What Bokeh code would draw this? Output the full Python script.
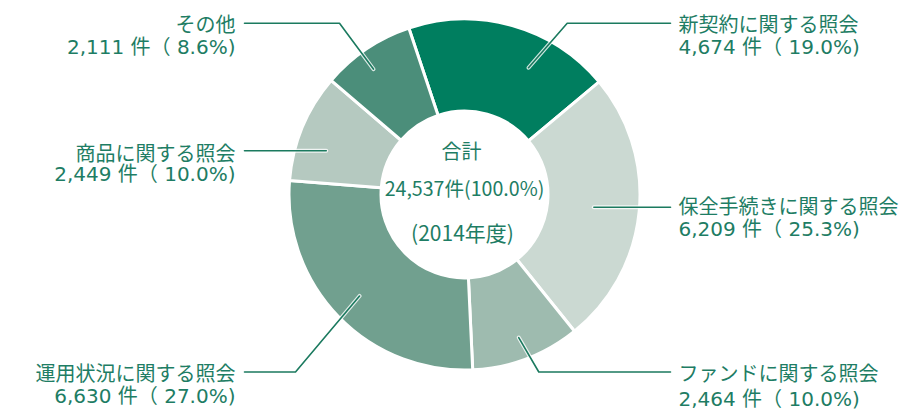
import math
from bokeh.plotting import figure
from bokeh.models import ColumnDataSource
from bokeh.core.properties import value
from bokeh.embed import file_html
from bokeh.resources import INLINE

# ---- data ----
categories = ["新契約に関する照会", "保全手続きに関する照会", "ファンドに関する照会",
              "運用状況に関する照会", "商品に関する照会", "その他"]
counts = [4674, 6209, 2464, 6630, 2449, 2111]
percents = [19.0, 25.3, 10.0, 27.0, 10.0, 8.6]
total_title = "合計"
total_label = "24,537件(100.0%)"
year_label = "(2014年度)"

# ---- style / layout ----
colors = ["#007E5F", "#CBD9D2", "#9EBBAF", "#71A08F", "#B5C9C0", "#4B8E7A"]
TEXT = "#1E7D64"
LINE = "#1B7A5F"
W, H = 905, 416


def X(x):
    return x


def Y(y):
    return H - y


CX, CY = X(464), Y(194)
R_OUT, R_IN = 175.5, 83.5
START = -18.5  # degrees clockwise from 12 o'clock

p = figure(width=W, height=H, x_range=(0, W), y_range=(0, H),
           output_backend="svg", toolbar_location=None, min_border=0,
           x_axis_type=None, y_axis_type=None)
p.grid.visible = False
p.outline_line_color = None
p.background_fill_color = "white"
p.border_fill_color = "white"

total = sum(counts)
a0s, a1s, mids = [], [], []
acc = START
for c in counts:
    a0 = acc
    a1 = acc + 360.0 * c / total
    a0s.append(a0)
    a1s.append(a1)
    mids.append((a0 + a1) / 2)
    acc = a1

src = ColumnDataSource(dict(
    start=[math.radians(90 - a) for a in a0s],
    end=[math.radians(90 - a) for a in a1s],
    color=colors,
))
p.annular_wedge(x=CX, y=CY, inner_radius=R_IN, outer_radius=R_OUT,
                start_angle="start", end_angle="end", direction="clock",
                fill_color="color", line_color="white", line_width=3, source=src)

# ---- leader lines ----
# per slice: angle tweak, anchor radius, label side x, elbow x, line y (screen px)
leader = [
    (11.0, 142, 670, 566.7, 22.7),
    (0.0, 130, 670, None, None),
    (0.0, 153, 670, 538.3, 371.5),
    (0.0, 146, 244, 295.0, 371.5),
    (-5.0, 145, 244, None, None),
    (-2.0, 155, 244, 339.0, 22.7),
]
for mid, (tw, r, sx, ex, ly) in zip(mids, leader):
    th = math.radians(mid + tw)
    ax = CX + r * math.sin(th)
    ay = CY + r * math.cos(th)
    if ex is None:
        xs = [X(sx), ax]
        ys = [ay, ay]
    else:
        xs = [X(sx), X(ex), ax]
        ys = [Y(ly), Y(ly), ay]
    p.line(xs, ys, line_color="white", line_width=4, line_alpha=0.8, line_cap="round", line_join="round")
    p.line(xs, ys, line_color=LINE, line_width=1.6, line_cap="round", line_join="round")

# ---- labels ----
label_pos = [  # (align, x, y1, y2) in screen px
    ("left", 678, 23.3, 46.7),
    ("left", 678, 205.0, 228.3),
    ("left", 678, 371.7, 398.3),
    ("right", 235, 371.7, 395.0),
    ("right", 235, 151.5, 173.5),
    ("right", 235, 23.0, 46.0),
]
jp_font = value("Noto Sans CJK JP")
num_font = value("DejaVu Sans ExtraLight, DejaVu Sans, Noto Sans CJK JP")
for cat, cnt, pct, (al, x, y1, y2) in zip(categories, counts, percents, label_pos):
    p.text(x=[X(x)], y=[Y(y1)], text=[cat], text_align=al, text_baseline="middle",
           text_font=jp_font, text_font_size="20px", text_color=TEXT)
    p.text(x=[X(x)], y=[Y(y2)], text=[f"{cnt:,} 件（ {pct:.1f}%)"], text_align=al,
           text_baseline="middle", text_font=num_font, text_font_size="20px",
           text_color=TEXT)

# ---- centre text ----
p.text(x=[X(461)], y=[Y(150)], text=[total_title], text_align="center", text_baseline="middle",
       text_font=jp_font, text_font_size="20px", text_color=TEXT)
p.text(x=[X(464)], y=[Y(187)], text=[total_label], text_align="center", text_baseline="middle",
       text_font=jp_font, text_font_size="19.6px", text_color=TEXT)
p.text(x=[X(462)], y=[Y(231)], text=[year_label], text_align="center", text_baseline="middle",
       text_font=jp_font, text_font_size="21px", text_color=TEXT)

open("out.html", "w").write(file_html(p, INLINE))
